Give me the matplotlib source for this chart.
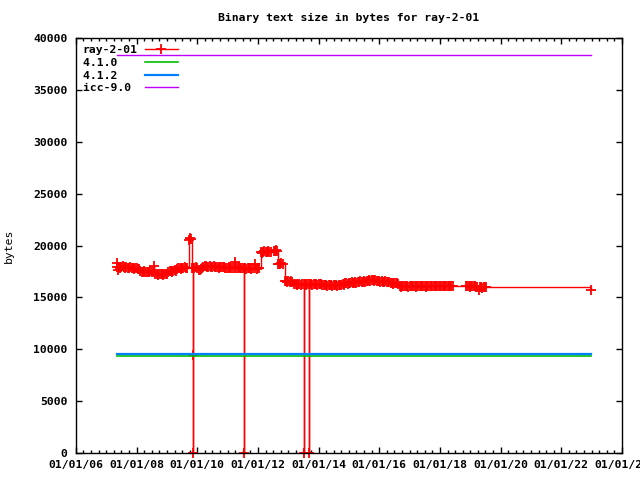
import matplotlib
matplotlib.use("Agg")
import matplotlib.pyplot as plt
import matplotlib.dates as mdates
import pandas as pd

# ray-2-01 binary text size (bytes)
ray_dates = [
    "2007-05-05", "2007-05-12", "2007-05-20", "2007-06-01", "2007-06-15", "2007-07-01", "2007-07-15",
    "2007-08-01", "2007-08-15", "2007-09-01", "2007-09-15", "2007-10-01", "2007-10-15", "2007-11-01",
    "2007-11-15", "2007-12-01", "2007-12-15", "2008-01-01", "2008-01-15", "2008-02-01", "2008-02-15",
    "2008-03-01", "2008-03-15", "2008-04-01", "2008-04-15", "2008-05-01", "2008-05-15", "2008-06-01",
    "2008-06-15", "2008-07-01", "2008-07-25", "2008-08-01", "2008-08-15", "2008-09-01", "2008-09-15",
    "2008-10-01", "2008-10-15", "2008-11-01", "2008-11-15", "2008-12-01", "2008-12-15", "2009-01-01",
    "2009-01-15", "2009-02-01", "2009-02-15", "2009-03-01", "2009-03-15", "2009-04-01", "2009-04-15",
    "2009-05-01", "2009-05-15", "2009-06-01", "2009-06-15", "2009-07-01", "2009-07-15", "2009-08-01",
    "2009-08-15", "2009-09-01", "2009-09-20", "2009-10-01", "2009-10-15", "2009-10-28", "2009-11-06",
    "2009-11-08", "2009-11-12", "2009-11-25", "2009-12-10", "2010-01-01", "2010-01-15", "2010-02-01",
    "2010-02-15", "2010-03-01", "2010-03-15", "2010-04-01", "2010-04-15", "2010-05-01", "2010-05-15",
    "2010-06-01", "2010-06-15", "2010-07-01", "2010-07-15", "2010-08-01", "2010-08-15", "2010-09-01",
    "2010-09-15", "2010-10-01", "2010-10-15", "2010-11-01", "2010-11-15", "2010-12-01", "2010-12-15",
    "2011-01-01", "2011-01-15", "2011-02-01", "2011-02-15", "2011-03-01", "2011-03-25", "2011-04-01",
    "2011-04-15", "2011-05-01", "2011-05-15", "2011-06-01", "2011-06-15", "2011-07-01", "2011-07-15",
    "2011-07-20", "2011-08-01", "2011-08-15", "2011-09-01", "2011-09-15", "2011-10-01", "2011-10-15",
    "2011-11-01", "2011-11-25", "2011-12-01", "2011-12-15", "2012-01-01", "2012-01-15", "2012-02-10",
    "2012-02-20", "2012-03-01", "2012-03-15", "2012-04-01", "2012-04-15", "2012-05-01", "2012-05-15",
    "2012-06-01", "2012-07-10", "2012-07-20", "2012-08-01", "2012-08-15", "2012-08-28", "2012-09-10",
    "2012-09-25", "2012-10-10", "2012-10-25", "2012-11-18", "2012-12-01", "2012-12-15", "2013-01-01",
    "2013-01-15", "2013-02-01", "2013-02-15", "2013-03-15", "2013-04-01", "2013-04-15", "2013-05-01",
    "2013-05-15", "2013-06-01", "2013-06-15", "2013-07-05", "2013-07-10", "2013-07-20", "2013-08-01",
    "2013-08-15", "2013-09-05", "2013-09-10", "2013-09-20", "2013-10-01", "2013-10-15", "2013-11-01",
    "2013-11-15", "2013-12-01", "2013-12-15", "2014-01-01", "2014-01-15", "2014-02-01", "2014-02-15",
    "2014-03-01", "2014-03-15", "2014-04-01", "2014-04-15", "2014-05-01", "2014-05-15", "2014-06-01",
    "2014-06-15", "2014-07-01", "2014-07-15", "2014-08-01", "2014-08-15", "2014-09-01", "2014-09-15",
    "2014-10-01", "2014-10-15", "2014-11-01", "2014-11-15", "2014-12-01", "2014-12-15", "2015-01-01",
    "2015-01-15", "2015-02-01", "2015-02-15", "2015-03-01", "2015-03-15", "2015-04-01", "2015-04-15",
    "2015-05-01", "2015-05-15", "2015-06-01", "2015-06-15", "2015-07-01", "2015-07-15", "2015-08-01",
    "2015-08-15", "2015-09-01", "2015-09-15", "2015-10-01", "2015-10-15", "2015-11-01", "2015-11-15",
    "2015-12-01", "2015-12-15", "2016-01-01", "2016-01-15", "2016-02-01", "2016-02-15", "2016-03-01",
    "2016-03-15", "2016-04-01", "2016-04-15", "2016-05-01", "2016-05-20", "2016-06-01", "2016-06-15",
    "2016-07-01", "2016-07-15", "2016-08-01", "2016-08-15", "2016-09-01", "2016-09-15", "2016-10-01",
    "2016-10-15", "2016-11-01", "2016-11-15", "2016-12-01", "2016-12-15", "2017-01-01", "2017-01-15",
    "2017-02-01", "2017-02-15", "2017-03-01", "2017-03-15", "2017-04-01", "2017-04-15", "2017-05-01",
    "2017-05-15", "2017-06-01", "2017-06-15", "2017-07-01", "2017-07-15", "2017-08-01", "2017-08-15",
    "2017-09-01", "2017-09-15", "2017-10-01", "2017-10-15", "2017-11-01", "2017-11-15", "2017-12-01",
    "2017-12-15", "2018-01-01", "2018-01-15", "2018-02-01", "2018-02-15", "2018-03-01", "2018-03-15",
    "2018-04-01", "2018-04-15", "2018-05-01", "2018-05-15", "2018-06-01", "2018-11-10", "2018-11-25",
    "2018-12-10", "2018-12-25", "2019-01-10", "2019-01-25", "2019-02-10", "2019-02-25", "2019-03-10",
    "2019-03-25", "2019-04-10", "2019-04-25", "2019-05-10", "2019-05-25", "2019-06-10", "2019-06-25",
    "2019-07-10", "2022-12-20",
]
ray_bytes = [
    17900, 18300, 17600, 17900, 17800, 17900, 18000,
    17900, 17800, 17900, 17800, 17800, 17900, 17800,
    17800, 17700, 17800, 17800, 17700, 17700, 17500,
    17400, 17400, 17500, 17400, 17400, 17400, 17400,
    17500, 17400, 18000, 17400, 17300, 17300, 17200,
    17300, 17300, 17300, 17200, 17300, 17300, 17300,
    17400, 17500, 17500, 17400, 17500, 17600, 17500,
    17700, 17800, 17800, 17700, 17800, 17800, 17900,
    17800, 17800, 20500, 20700, 20600, 17800, 9450,
    0, 17800, 17800, 17900, 17800, 17600, 17600,
    17700, 17800, 17900, 18000, 18000, 17900, 17900,
    18000, 17900, 17900, 18000, 17900, 17900, 17900,
    17800, 17900, 17900, 17900, 17900, 17800, 17800,
    17800, 17900, 17800, 17800, 17800, 18400, 17800,
    17800, 17800, 17900, 17800, 17800, 17800, 0,
    17800, 17800, 17700, 17800, 17800, 17800, 17700,
    17800, 18200, 17800, 17700, 17800, 17800, 19400,
    19300, 19400, 19500, 19400, 19400, 19500, 19400,
    19400, 19500, 19500, 19600, 19500, 18200, 18200,
    18200, 18300, 18200, 16600, 16600, 16500, 16600,
    16500, 16600, 16500, 16300, 16300, 16200, 16300,
    16300, 16200, 16300, 0, 16300, 16300, 16200,
    16300, 0, 16300, 16300, 16300, 16200, 16300,
    16300, 16300, 16200, 16300, 16300, 16300, 16200,
    16200, 16200, 16200, 16100, 16200, 16200, 16200,
    16100, 16200, 16200, 16200, 16100, 16200, 16200,
    16200, 16300, 16200, 16400, 16400, 16300, 16400,
    16400, 16500, 16400, 16400, 16500, 16400, 16500,
    16500, 16600, 16500, 16500, 16600, 16500, 16600,
    16600, 16700, 16600, 16700, 16700, 16600, 16700,
    16600, 16600, 16600, 16500, 16600, 16500, 16500,
    16600, 16500, 16500, 16500, 16400, 16400, 16300,
    16400, 16400, 16400, 16300, 16100, 16000, 16100,
    16100, 16100, 16100, 16100, 16000, 16100, 16100,
    16100, 16100, 16100, 16000, 16100, 16100, 16100,
    16100, 16100, 16100, 16100, 16000, 16100, 16100,
    16100, 16100, 16100, 16100, 16100, 16100, 16100,
    16100, 16100, 16100, 16100, 16100, 16100, 16100,
    16100, 16100, 16100, 16100, 16100, 16100, 16100,
    16100, 16000, 16100, 16100, 16100, 16100, 16000,
    16000, 15700, 16000, 16000, 15900, 16000, 16000,
    16000, 15700,
]

# reference compilers: constant sizes over the same span
ref_dates = ["2007-05-05", "2022-12-20"]
gcc410_bytes = [9380, 9380]
gcc412_bytes = [9500, 9500]
icc90_bytes = [38400, 38400]

plt.rcParams["font.family"] = "DejaVu Sans Mono"
plt.rcParams["font.weight"] = "bold"
plt.rcParams["font.size"] = 8.2

fig = plt.figure(figsize=(6.4, 4.8), dpi=100)
ax = fig.add_axes([76 / 640, 27 / 480, 546 / 640, 415 / 480])

x = pd.to_datetime(ray_dates)
xr = pd.to_datetime(ref_dates)

ax.plot(x, ray_bytes, color="#ff0000", lw=1, drawstyle="steps-post",
        marker="+", ms=7, mew=1.3, label="ray-2-01", clip_on=False, zorder=2)
ax.plot(xr, gcc410_bytes, color="#00c000", lw=1.2, label="4.1.0".ljust(8), zorder=3)
ax.plot(xr, gcc412_bytes, color="#0080ff", lw=1.6, label="4.1.2".ljust(8), zorder=3)
ax.plot(xr, icc90_bytes, color="#c000ff", lw=1, label="icc-9.0".ljust(8), zorder=3)

ax.set_xlim(pd.Timestamp("2006-01-01"), pd.Timestamp("2024-01-01"))
ax.set_ylim(0, 40000)
ax.set_yticks(range(0, 40001, 5000))
ax.xaxis.set_major_locator(mdates.YearLocator(2))
ax.xaxis.set_minor_locator(mdates.MonthLocator(bymonth=[1, 4, 7, 10]))
ax.xaxis.set_major_formatter(mdates.DateFormatter("%m/%d/%y"))

ax.tick_params(which="both", direction="in", top=True, right=True, color="black", width=1)
ax.tick_params(which="major", length=4.5)
ax.tick_params(which="minor", length=2.5)
ax.tick_params(axis="x", pad=5)
ax.tick_params(axis="y", pad=6)
for s in ax.spines.values():
    s.set_linewidth(1)
    s.set_zorder(4)

ax.set_ylabel("bytes")
ax.yaxis.set_label_coords(-0.113, 0.5)
fig.text(349 / 640, 1 - 18 / 480, "Binary text size in bytes for ray-2-01",
         ha="center", va="center")

ax.legend(loc="upper left", bbox_to_anchor=(0.0, 1.0), frameon=False, markerfirst=False,
          handlelength=2.9, handletextpad=0.6, labelspacing=0.25, borderpad=0.4,
          borderaxespad=0.2)

fig.savefig("out.png", dpi=100)
